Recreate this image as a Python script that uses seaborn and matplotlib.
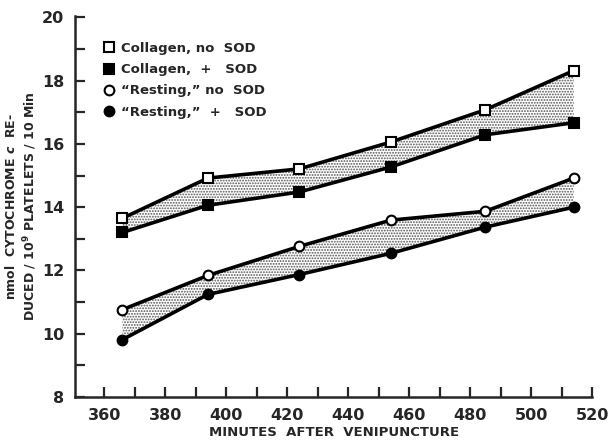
import numpy as np
import pandas as pd
import matplotlib
matplotlib.use("Agg")
import matplotlib.pyplot as plt
from matplotlib.ticker import MultipleLocator
import seaborn as sns

# data
minutes = [366, 394, 424, 454, 485, 514]
collagen_no_sod = [13.65, 14.92, 15.21, 16.06, 17.08, 18.32]
collagen_sod = [13.2, 14.06, 14.48, 15.27, 16.29, 16.67]
resting_no_sod = [10.76, 11.84, 12.76, 13.59, 13.87, 14.92]
resting_sod = [9.81, 11.24, 11.87, 12.54, 13.37, 14.0]

labels = ["Collagen, no  SOD", "Collagen,  +   SOD",
          "\u201cResting,\u201d no  SOD", "\u201cResting,\u201d  +   SOD"]

sns.set_style("ticks")
plt.rcParams["font.family"] = ["DejaVu Sans"]
plt.rcParams["font.weight"] = "bold"
plt.rcParams["hatch.color"] = "#555555"
plt.rcParams["hatch.linewidth"] = 0.9

fig = plt.figure(figsize=(6.11, 4.41), dpi=100)
ax = fig.add_axes([0.123, 0.10, 0.846, 0.864])

# shaded bands between paired curves
ax.fill_between(minutes, collagen_sod, collagen_no_sod, facecolor="white",
                hatch="......", edgecolor="#555555", linewidth=0, zorder=1)
ax.fill_between(minutes, resting_sod, resting_no_sod, facecolor="white",
                hatch="......", edgecolor="#555555", linewidth=0, zorder=1)

series = [
    (collagen_no_sod, "s", "white"),
    (collagen_sod, "s", "black"),
    (resting_no_sod, "o", "white"),
    (resting_sod, "o", "black"),
]
for (vals, mk, fc), lab in zip(series, labels):
    sns.lineplot(x=minutes, y=vals, ax=ax, color="black", linewidth=2.6,
                 marker=mk, markersize=7, markerfacecolor=fc,
                 markeredgecolor="black", markeredgewidth=1.5,
                 label=lab, zorder=3)

ax.set_xlim(350.5, 520)
ax.set_ylim(8, 20.05)
ax.xaxis.set_major_locator(MultipleLocator(20))
ax.xaxis.set_minor_locator(MultipleLocator(10))
ax.yaxis.set_major_locator(MultipleLocator(2))
ax.yaxis.set_minor_locator(MultipleLocator(1))
ax.tick_params(which="both", direction="in", length=7, width=1.6,
               labelsize=11.5, pad=8)
for t in ax.get_xticklabels() + ax.get_yticklabels():
    t.set_fontweight("bold")

for s in ["top", "right"]:
    ax.spines[s].set_visible(False)
for s in ["left", "bottom"]:
    ax.spines[s].set_linewidth(1.8)

ax.set_xlabel("MINUTES  AFTER  VENIPUNCTURE", fontsize=9.5,
              fontweight="bold", labelpad=2)
ax.set_ylabel("nmol  CYTOCHROME $\\mathit{c}$  RE-\n"
              "DUCED / 10$^9$ PLATELETS / 10 Min",
              fontsize=9, fontweight="bold", linespacing=1.25)
ax.yaxis.set_label_coords(-0.07, 0.5)

leg = ax.legend(loc="upper left", bbox_to_anchor=(0.055, 0.945), frameon=False,
                handlelength=0, handletextpad=0.9, labelspacing=0.62,
                borderaxespad=0, prop={"size": 9.5, "weight": "bold"})
for h in leg.legend_handles:
    h.set_linestyle("none")

fig.savefig("out.png", dpi=100)
